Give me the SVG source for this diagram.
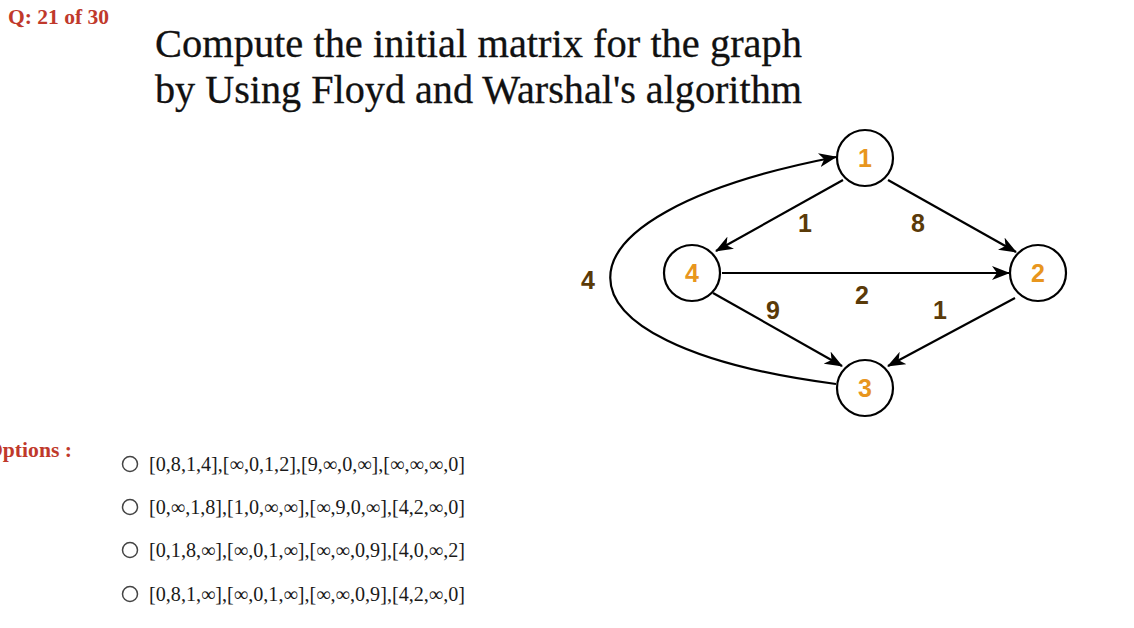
<svg xmlns="http://www.w3.org/2000/svg" width="1134" height="628" viewBox="0 0 1134 628">
<style>
.hdr{font-family:"Liberation Serif",serif;font-weight:bold;font-size:21px;fill:#c0392b}
.title{font-family:"Liberation Serif",serif;font-size:40px;fill:#111;stroke:#111;stroke-width:0.3}
.opt{font-family:"Liberation Serif",serif;font-size:20px;fill:#1a1a1a}
.radio{fill:#fff;stroke:#444;stroke-width:1.5}
.node circle{fill:#fff;stroke:#000;stroke-width:2.2}
.node text{font-family:"Liberation Sans",Arial,sans-serif;font-weight:bold;font-size:25px;fill:#e8961e;text-anchor:middle}
.edge{fill:none;stroke:#000;stroke-width:2.2;marker-end:url(#arr)}
.lbl{font-family:"Liberation Sans",Arial,sans-serif;font-weight:bold;font-size:25px;fill:#5a3a08;text-anchor:middle}
</style>
<defs>
<marker id="arr" viewBox="0 0 18 14" refX="17" refY="7" markerWidth="18" markerHeight="14" markerUnits="userSpaceOnUse" orient="auto">
<path d="M0,0 L18,7 L0,14 L5,7 z" fill="#000"/>
</marker>
</defs>
<rect width="1134" height="628" fill="#fff"/>
<text class="hdr" x="8" y="24" textLength="101" lengthAdjust="spacingAndGlyphs">Q: 21 of 30</text>
<text class="title" x="155" y="57" textLength="647" lengthAdjust="spacingAndGlyphs">Compute the initial matrix for the graph</text>
<text class="title" x="155" y="103" textLength="647" lengthAdjust="spacingAndGlyphs">by Using Floyd and Warshal's algorithm</text>

<g id="connectors">
<path class="edge" d="M843,180 L716,251"/>
<path class="edge" d="M888,180 L1016,252"/>
<path class="edge" d="M722,273 L1009,273"/>
<path class="edge" d="M713,293 L842,366"/>
<path class="edge" d="M1015,298 L888,366"/>
<path class="edge" d="M836,384 C535,345 535,215 836,157"/>
<text class="lbl" x="805" y="232">1</text>
<text class="lbl" x="918" y="232">8</text>
<text class="lbl" x="862" y="304">2</text>
<text class="lbl" x="773" y="319">9</text>
<text class="lbl" x="940" y="319">1</text>
<text class="lbl" x="588" y="289">4</text>
</g>

<g id="node1" class="node"><circle cx="865" cy="158" r="28"/><text x="865" y="167">1</text></g>
<g id="node2" class="node"><circle cx="1038" cy="273" r="28"/><text x="1038" y="282">2</text></g>
<g id="node3" class="node"><circle cx="865" cy="388" r="28"/><text x="865" y="397">3</text></g>
<g id="node4" class="node"><circle cx="692" cy="273" r="28"/><text x="692" y="282">4</text></g>

<text class="hdr" x="-14" y="457" textLength="86" lengthAdjust="spacingAndGlyphs">Options :</text>
<circle class="radio" cx="130" cy="464" r="7.5"/>
<text class="opt" x="149" y="471" textLength="316" lengthAdjust="spacingAndGlyphs">[0,8,1,4],[∞,0,1,2],[9,∞,0,∞],[∞,∞,∞,0]</text>
<circle class="radio" cx="130" cy="507" r="7.5"/>
<text class="opt" x="149" y="514" textLength="316" lengthAdjust="spacingAndGlyphs">[0,∞,1,8],[1,0,∞,∞],[∞,9,0,∞],[4,2,∞,0]</text>
<circle class="radio" cx="130" cy="550" r="7.5"/>
<text class="opt" x="149" y="557" textLength="316" lengthAdjust="spacingAndGlyphs">[0,1,8,∞],[∞,0,1,∞],[∞,∞,0,9],[4,0,∞,2]</text>
<circle class="radio" cx="130" cy="594" r="7.5"/>
<text class="opt" x="149" y="601" textLength="316" lengthAdjust="spacingAndGlyphs">[0,8,1,∞],[∞,0,1,∞],[∞,∞,0,9],[4,2,∞,0]</text>
</svg>
